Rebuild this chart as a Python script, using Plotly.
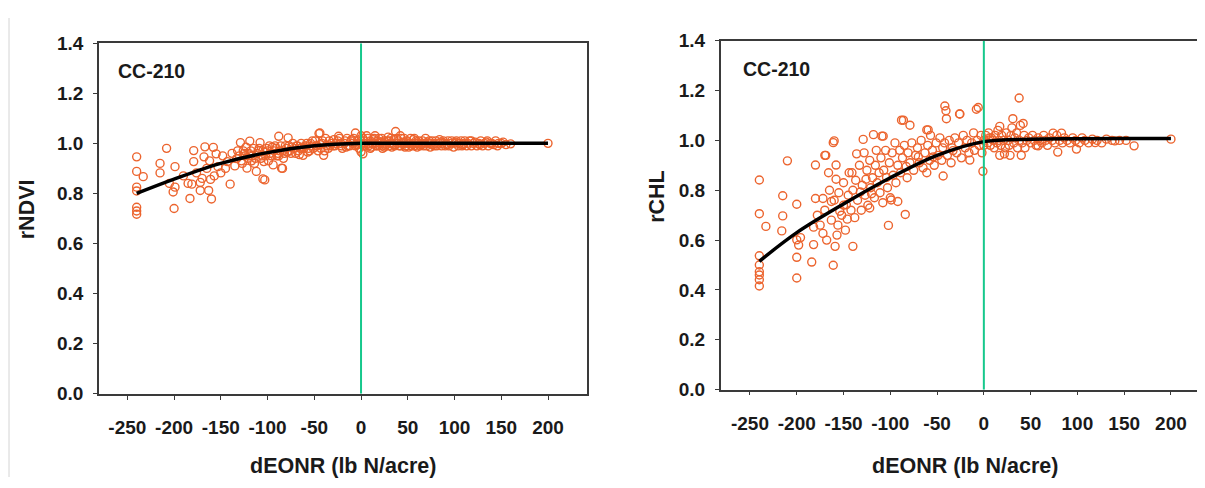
import plotly.graph_objects as go

# ---------------- data ----------------
panel_label = "CC-210"
x_title = "dEONR (lb N/acre)"
y_title_left = "rNDVI"
y_title_right = "rCHL"

x_tickvals = [-250, -200, -150, -100, -50, 0, 50, 100, 150, 200]
x_ticktext = ["-250", "-200", "-150", "-100", "-50", "0", "50", "100", "150", "200"]
y_tickvals = [0.0, 0.2, 0.4, 0.6, 0.8, 1.0, 1.2, 1.4]
y_ticktext = ["0.0", "0.2", "0.4", "0.6", "0.8", "1.0", "1.2", "1.4"]

ndvi_points = [
    (-240, 0.946), (-240, 0.888), (-240, 0.825), (-240, 0.81), (-240, 0.745), (-240, 0.717), (-240, 0.73), (-233, 0.867),
    (-208, 0.98), (-215, 0.92), (-215, 0.882), (-199, 0.907), (-199, 0.825), (-201, 0.806), (-200, 0.74), (-205, 0.84),
    (-183, 0.78), (-181, 0.837), (-179, 0.971), (-179, 0.927), (-176, 0.882), (-172, 0.844), (-172, 0.812), (-170, 0.86),
    (-167, 0.986), (-168, 0.946), (-163, 0.812), (-160, 0.778), (-161, 0.856), (-158, 0.984), (-155, 0.958), (-153, 0.907),
    (-150, 0.882), (-140, 0.837), (-143, 0.927), (-133, 0.939), (-129, 1.003), (-122, 0.901), (-119, 1.009), (-112, 0.888),
    (-108, 1.003), (-103, 0.854), (-104, 0.927), (-94, 0.914), (-85, 0.901), (-88, 1.028), (-78, 1.022), (-62, 0.952),
    (-44, 1.041), (-40, 0.952), (-24, 1.028), (-6, 1.041), (2, 0.958), (-45, 1.039), (-105, 0.858), (-84, 0.90),
    (-190, 0.87), (-185, 0.84), (-165, 0.90), (-162, 0.93), (-157, 0.87), (-148, 0.95), (-145, 0.90), (-138, 0.96),
    (-135, 0.91), (-128, 0.93), (-126, 0.97), (-124, 0.95), (-120, 0.96), (-117, 0.93), (-115, 0.98), (-113, 0.94),
    (-110, 0.97), (-106, 0.95), (-101, 0.98), (-99, 0.93), (-97, 0.96), (-92, 0.99), (-90, 0.95), (-87, 0.97),
    (-83, 0.94), (-81, 0.99), (-76, 0.97), (-73, 1.0), (-70, 0.96), (-68, 0.99), (-65, 0.98), (-58, 1.0),
    (-55, 0.97), (-52, 1.01), (-48, 0.99), (-46, 0.97), (-42, 1.0), (-38, 1.02), (-35, 0.98), (-32, 1.0),
    (-28, 0.99), (-25, 1.01), (-20, 0.98), (-18, 1.0), (-15, 1.02), (-12, 0.99), (-9, 1.0), (-4, 1.01),
    (-2, 0.98), (0, 0.966), (0, 1.0), (0, 1.03),
    (-130, 0.95), (-127, 0.92), (-125, 0.96), (-121, 0.94), (-118, 0.97), (-116, 0.95), (-114, 0.92), (-111, 0.96),
    (-109, 0.98), (-107, 0.94), (-105, 0.97), (-102, 0.95), (-100, 0.97), (-98, 0.99), (-96, 0.95), (-93, 0.97),
    (-91, 0.98), (-89, 0.96), (-86, 0.99), (-84, 0.97), (-82, 0.96), (-80, 0.98), (-77, 0.99), (-75, 0.96),
    (-72, 0.98), (-69, 0.99), (-67, 0.97), (-64, 1.0), (-61, 0.98), (-59, 0.99), (-56, 0.98), (-54, 1.0),
    (-51, 0.98), (-49, 1.01), (-47, 0.99), (-43, 0.98), (-41, 1.01), (-37, 0.99), (-34, 1.01), (-30, 0.99),
    (-27, 1.0), (-23, 1.02), (-21, 0.99), (-17, 1.01), (-14, 0.99), (-11, 1.01), (-8, 1.02), (-6, 0.99), (-3, 1.0),
    (-132, 0.97), (-123, 0.985), (-119, 0.95), (-103, 0.965), (-95, 0.985), (-88, 0.95), (-79, 0.965), (-74, 0.985),
    (-66, 0.955), (-63, 0.985), (-57, 0.965), (-53, 0.99), (-44, 0.995), (-39, 0.97), (-33, 0.99), (-29, 1.015),
    (-22, 1.0), (-16, 0.985), (-10, 1.015), (-5, 0.995),
    (3, 1.01), (5, 0.99), (7, 1.02), (9, 1.0), (11, 0.985), (13, 1.015), (15, 1.0), (17, 0.99),
    (19, 1.02), (21, 1.005), (23, 0.98), (25, 1.01), (27, 0.995), (29, 1.025), (31, 1.0), (33, 0.985),
    (35, 1.015), (37, 1.047), (39, 1.0), (41, 0.99), (43, 1.02), (45, 1.005), (47, 0.985), (49, 1.01),
    (52, 1.0), (54, 0.99), (56, 1.015), (58, 1.0), (60, 0.985), (62, 1.01), (65, 1.0), (67, 0.99),
    (69, 1.02), (72, 1.0), (74, 0.985), (76, 1.01), (79, 1.0), (81, 0.99), (84, 1.015), (87, 1.0),
    (90, 0.99), (93, 1.01), (96, 1.0), (99, 0.985), (102, 1.01), (105, 1.0), (108, 0.99), (111, 1.01),
    (114, 1.0), (118, 0.99), (122, 1.005), (126, 1.0), (130, 0.99), (134, 1.005), (138, 1.0), (142, 0.995),
    (147, 1.0), (160, 0.998), (200, 1.0),
    (4, 1.0), (6, 1.03), (8, 0.99), (10, 1.01), (12, 1.0), (14, 1.02), (16, 0.99), (18, 1.01),
    (20, 0.99), (22, 1.02), (24, 1.0), (26, 0.99), (28, 1.01), (30, 0.99), (32, 1.02), (34, 1.0),
    (36, 0.99), (38, 1.02), (40, 1.01), (42, 0.99), (44, 1.0), (46, 1.02), (48, 0.99), (50, 1.0),
    (53, 1.02), (55, 1.0), (57, 0.99), (59, 1.01), (61, 1.0), (63, 0.99), (66, 1.01), (68, 1.0),
    (70, 0.99), (73, 1.01), (75, 1.0), (78, 0.99), (80, 1.01), (83, 1.0), (86, 0.99), (88, 1.01),
    (91, 1.0), (94, 0.99), (97, 1.01), (100, 1.0), (104, 0.99), (107, 1.01), (110, 1.0), (113, 0.99),
    (116, 1.01), (120, 1.0), (124, 0.99), (128, 1.01), (132, 1.0), (136, 0.99), (140, 1.0), (144, 1.01),
    (150, 1.0), (155, 0.995),
    (1, 0.995), (2, 1.02), (10, 0.98), (15, 1.03), (20, 1.0), (25, 0.985), (30, 1.01), (35, 0.995),
    (42, 1.03), (47, 1.0), (51, 0.985), (57, 1.02), (64, 0.995), (71, 1.005), (77, 0.995), (85, 1.005),
    (92, 0.995), (101, 1.005), (109, 0.995), (118, 1.01), (127, 0.995), (135, 1.01), (146, 0.99), (152, 1.005),
]

chl_points = [
    (-240, 0.841), (-240, 0.706), (-240, 0.537), (-240, 0.473), (-240, 0.441), (-240, 0.416), (-240, 0.50), (-240, 0.46),
    (-233, 0.655), (-210, 0.918), (-215, 0.778), (-215, 0.697), (-216, 0.637), (-200, 0.744), (-200, 0.448), (-200, 0.531),
    (-200, 0.601), (-198, 0.58), (-196, 0.61), (-184, 0.512), (-182, 0.582), (-182, 0.652), (-180, 0.901), (-170, 0.94),
    (-180, 0.767), (-172, 0.767), (-172, 0.627), (-166, 0.870), (-161, 0.499), (-159, 0.575), (-161, 0.991), (-158, 0.901),
    (-158, 0.844), (-157, 0.62), (-163, 0.755), (-154, 0.716), (-147, 0.742), (-146, 0.684), (-140, 0.575), (-141, 0.87),
    (-136, 0.946), (-132, 0.793), (-129, 1.004), (-126, 0.844), (-122, 0.729), (-118, 1.023), (-120, 0.786), (-109, 1.017),
    (-104, 0.851), (-102, 0.659), (-99, 0.761), (-92, 0.755), (-88, 1.081), (-84, 0.703), (-83, 0.895), (-79, 1.061),
    (-70, 0.934), (-61, 0.870), (-61, 1.042), (-54, 0.934), (-43.5, 0.857), (-40, 1.087), (-40.5, 1.119), (-33, 0.959),
    (-26, 1.106), (-15, 0.921), (-8, 1.125), (-1, 0.876), (6, 1.010), (17, 0.94), (28, 0.94),
    (37.7, 1.170), (-6, 1.132), (-25.6, 1.106), (-41.7, 1.138), (31, 1.087), (42, 1.068), (79, 0.953), (160.6, 0.978),
    (99, 0.965), (74, 1.029), (83, 1.029), (-86, 1.081), (-160, 0.998), (-169, 0.94), (-107.6, 1.017), (-59.5, 1.042),
    (17, 1.056), (22, 0.946), (40, 0.94), (58, 0.978), (119, 0.991), (140, 0.998), (200, 1.005),
    (-178, 0.70), (-175, 0.66), (-170, 0.72), (-168, 0.60), (-165, 0.80), (-163, 0.68), (-160, 0.76), (-156, 0.66),
    (-155, 0.79), (-152, 0.70), (-150, 0.83), (-150, 0.74), (-148, 0.64), (-145, 0.78), (-144, 0.87), (-142, 0.72),
    (-140, 0.80), (-138, 0.69), (-137, 0.84), (-135, 0.76), (-133, 0.90), (-131, 0.72), (-130, 0.82), (-128, 0.95),
    (-127, 0.78), (-125, 0.88), (-124, 0.74), (-122, 0.92), (-121, 0.81), (-119, 0.85), (-117, 0.77), (-116, 0.90),
    (-115, 0.96), (-114, 0.83), (-112, 0.87), (-111, 0.79), (-110, 0.93), (-108, 0.75), (-107, 0.88), (-105, 0.96),
    (-103, 0.81), (-101, 0.91), (-100, 0.77), (-98, 0.95), (-97, 0.86), (-95, 0.99), (-94, 0.83), (-92, 0.90),
    (-90, 0.96), (-89, 0.87), (-87, 0.93), (-85, 0.98), (-82, 0.85), (-81, 0.95), (-79, 0.91), (-77, 0.99),
    (-75, 0.88), (-73, 0.94), (-71, 0.97), (-69, 0.91), (-67, 1.0), (-65, 0.89), (-63, 0.95), (-60, 0.98),
    (-58, 0.92), (-57, 1.02), (-55, 0.96), (-53, 0.90), (-51, 0.99), (-49, 0.94), (-47, 1.01), (-45, 0.92),
    (-44, 0.97), (-42, 0.99), (-39, 0.94), (-37, 1.0), (-35, 0.91), (-34, 0.97), (-31, 1.01), (-29, 0.95),
    (-27, 0.99), (-24, 0.93), (-22, 1.02), (-20, 0.97), (-18, 1.0), (-16, 0.95), (-13, 0.99), (-11, 1.03),
    (-10, 0.96), (-7, 1.0), (-5, 0.98), (-3, 1.02), (-2, 0.95), (0, 1.0), (0, 0.98),
    (2, 1.02), (4, 0.99), (5, 1.03), (7, 0.98), (8, 1.01), (10, 1.0), (11, 0.97), (12, 1.02),
    (14, 0.99), (15, 1.04), (16, 1.0), (18, 0.98), (19, 1.02), (21, 1.0), (23, 0.97), (24, 1.03),
    (26, 1.0), (27, 0.98), (29, 1.02), (30, 1.05), (32, 0.99), (33, 1.01), (35, 1.03), (36, 0.97),
    (38, 1.0), (39, 1.06), (41, 0.99), (43, 1.02), (44, 0.97), (46, 1.0), (48, 1.01), (50, 0.99),
    (52, 1.02), (54, 1.0), (56, 0.98), (58, 1.01), (60, 1.0), (62, 0.99), (64, 1.02), (66, 1.0),
    (68, 0.98), (70, 1.01), (73, 1.0), (76, 0.99), (78, 1.02), (81, 1.0), (84, 0.99), (86, 1.01),
    (89, 1.0), (92, 0.99), (95, 1.01), (98, 1.0), (102, 0.99), (105, 1.01), (108, 1.0), (112, 0.99),
    (116, 1.005), (121, 1.0), (126, 0.99), (131, 1.005), (137, 1.0), (145, 1.0), (152, 1.0),
]

ndvi_fit_x = [-240, -200, -150, -100, -50, 0, 50, 100, 150, 200]
ndvi_fit_y = [0.80, 0.857, 0.92, 0.963, 0.99, 1.0, 1.0, 1.0, 1.0, 1.0]

chl_fit_x = [-240, -200, -150, -100, -50, 0, 50, 100, 150, 200]
chl_fit_y = [0.515, 0.63, 0.745, 0.85, 0.94, 0.995, 1.005, 1.007, 1.008, 1.008]

# ---------------- style ----------------
# The page body adds an 8px margin; the figure is sized/positioned to compensate.
OFF = 8
W, H = 1205 - OFF, 488 - OFF
FONT = "Liberation Sans, Arial, sans-serif"
MARKER_COLOR = "rgb(236,100,46)"
GREEN = "rgb(22,200,140)"
AXIS_COLOR = "#3a3a3a"


def px_x(p):
    return (p - OFF) / W


def px_y(p):
    return 1 - (p - OFF) / H


fig = go.Figure()

panels = [
    dict(pts=ndvi_points, fx=ndvi_fit_x, fy=ndvi_fit_y, xa="x", ya="y"),
    dict(pts=chl_points, fx=chl_fit_x, fy=chl_fit_y, xa="x2", ya="y2"),
]
for p in panels:
    xs = [a for a, b in p["pts"]]
    ys = [b for a, b in p["pts"]]
    fig.add_trace(go.Scatter(
        x=xs, y=ys, mode="markers", xaxis=p["xa"], yaxis=p["ya"],
        marker=dict(symbol="circle-open", size=8, color=MARKER_COLOR,
                    line=dict(width=1.4, color=MARKER_COLOR)),
        showlegend=False, hoverinfo="skip"))
    fig.add_trace(go.Scatter(
        x=p["fx"], y=p["fy"], mode="lines", xaxis=p["xa"], yaxis=p["ya"],
        line=dict(color="black", width=3.5, shape="spline", smoothing=1.0),
        showlegend=False, hoverinfo="skip"))

axis_common = dict(
    showgrid=False, zeroline=False, showline=True, linecolor=AXIS_COLOR, linewidth=1.5,
    ticks="outside", ticklen=4, tickwidth=1.2, tickcolor=AXIS_COLOR,
    tickfont=dict(family=FONT, size=19, color="#1a1a1a", weight="bold"),
)

fig.update_layout(
    width=W, height=H,
    margin=dict(l=0, r=0, t=0, b=0),
    paper_bgcolor="white", plot_bgcolor="white",
    xaxis=dict(domain=[px_x(99), px_x(586.7)], range=[-280.3, 241.4], anchor="y",
               tickvals=x_tickvals, ticktext=x_ticktext, mirror=True,
               ticklabelstandoff=12, **axis_common),
    yaxis=dict(domain=[px_y(401), px_y(34.3)], range=[0, 1.4], anchor="x",
               tickvals=y_tickvals, ticktext=y_ticktext, mirror=True,
               ticklabelstandoff=6, **axis_common),
    xaxis2=dict(domain=[px_x(720.7), 1.0], range=[-281.3, 236.4], anchor="y2",
                tickvals=x_tickvals, ticktext=x_ticktext, mirror=True,
                ticklabelstandoff=12, **axis_common),
    yaxis2=dict(domain=[px_y(396.7), px_y(31.7)], range=[0, 1.4], anchor="x2",
                tickvals=y_tickvals, ticktext=y_ticktext, mirror=False,
                ticklabelstandoff=6, **axis_common),
)

# vertical green reference line at dEONR = 0
for xr, yr in [("x", "y"), ("x2", "y2")]:
    fig.add_shape(type="line", xref=xr, yref=yr, x0=0, x1=0, y0=0, y1=1.4,
                  line=dict(color=GREEN, width=2))

# faint page border line at left
fig.add_shape(type="line", xref="paper", yref="paper", x0=px_x(9), x1=px_x(9),
              y0=0, y1=px_y(8), line=dict(color="#d4d4d4", width=1))

title_font = dict(family=FONT, size=21.5, color="#1a1a1a", weight="bold")
label_font = dict(family=FONT, size=19.5, color="#1a1a1a", weight="bold")

annos = [
    dict(text=panel_label, x=px_x(116), y=px_y(63), xanchor="left", yanchor="middle", font=label_font),
    dict(text=panel_label, x=px_x(741), y=px_y(61.7), xanchor="left", yanchor="middle", font=label_font),
    dict(text=x_title, x=px_x(342.5), y=px_y(476), xanchor="center", yanchor="middle", font=title_font),
    dict(text=x_title, x=px_x(965), y=px_y(476), xanchor="center", yanchor="middle", font=title_font),
    dict(text=y_title_left, x=px_x(27), y=px_y(208), xanchor="center", yanchor="middle", textangle=-90, font=title_font),
    dict(text=y_title_right, x=px_x(657), y=px_y(195), xanchor="center", yanchor="middle", textangle=-90, font=title_font),
]
for a in annos:
    fig.add_annotation(xref="paper", yref="paper", showarrow=False, **a)

fig.write_html("out.html")
